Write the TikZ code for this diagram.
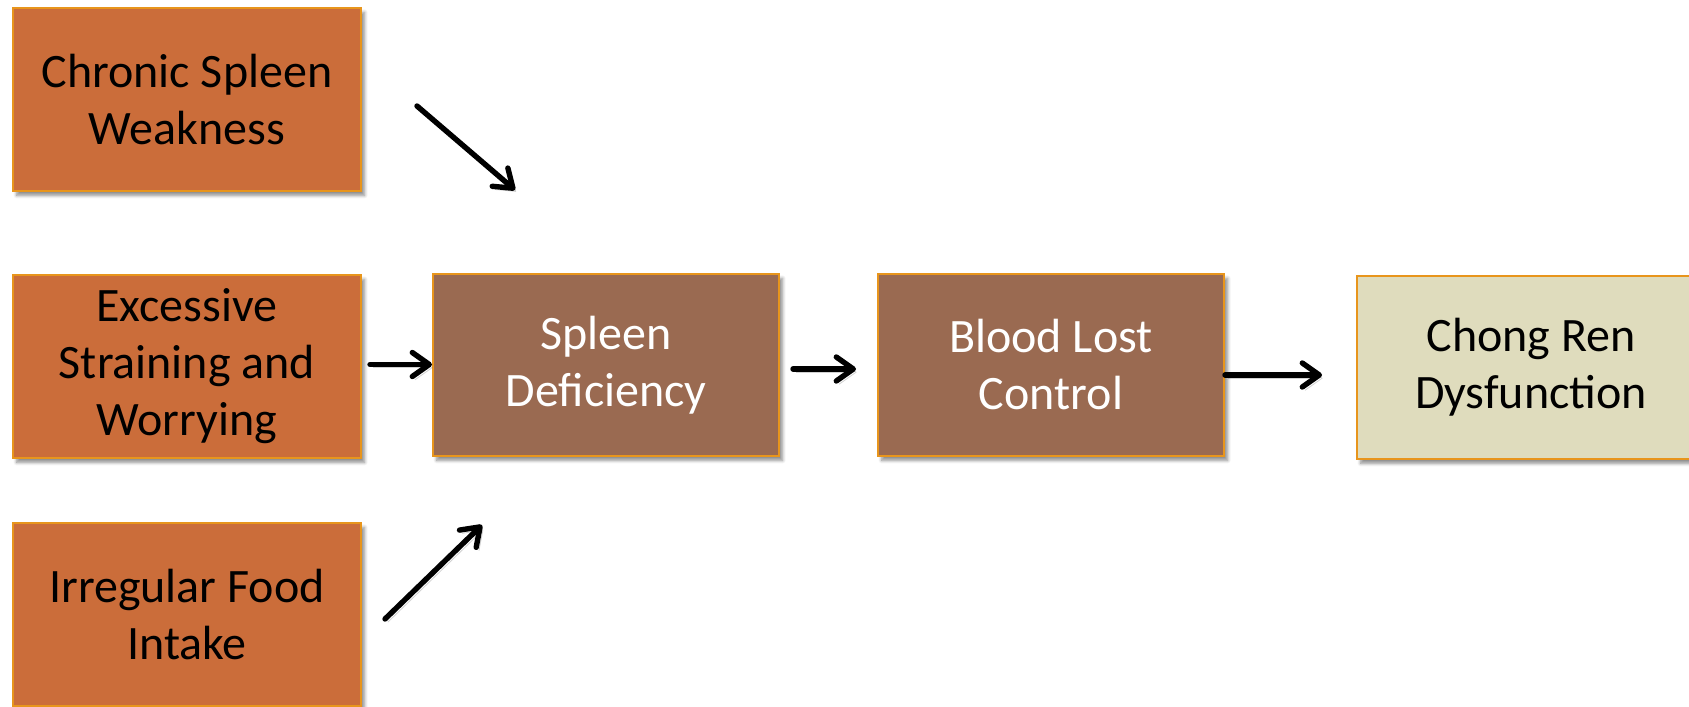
\documentclass[tikz,border=0pt]{standalone}
\usepackage{fontspec}
\setmainfont{Carlito}
\usetikzlibrary{arrows.meta,shadows.blur}
\definecolor{boxorange}{HTML}{CB6D3A}
\definecolor{boxbrown}{HTML}{9A6A51}
\definecolor{boxbeige}{HTML}{DFDCBD}
\definecolor{edgeorange}{HTML}{E8951C}
\tikzset{
  flowbox/.style={rectangle, draw=edgeorange, line width=1pt, inner sep=0pt,
    minimum width=174pt, minimum height=91.5pt, align=center,
    font=\fontsize{24}{28.5}\selectfont,
    execute at begin node={\rule{0pt}{22pt}},
    blur shadow={shadow xshift=1.8pt, shadow yshift=-2.2pt, shadow blur radius=1.6pt, shadow blur steps=6, shadow opacity=45}},
  causebox/.style={flowbox, fill=boxorange, text=black},
  midbox/.style={flowbox, fill=boxbrown, text=white},
  endbox/.style={flowbox, fill=boxbeige, text=black},
  arr/.style={line width=2.7pt, line cap=round, -{Straight Barb[length=8.5pt,width=12pt,round]},
    preaction={draw=black, opacity=0.18, transform canvas={shift={(1.4pt,-1.6pt)}}}}
}
\begin{document}
\begin{tikzpicture}[x=0.5pt,y=-0.5pt]
\useasboundingbox (0,0) rectangle (1689,706);
\clip (0,0) rectangle (1689,706);
\node[causebox] (chr) at (187,99.5) {Chronic Spleen\\Weakness};
\node[causebox] (exc) at (187,366.5) {Excessive\\Straining and\\Worrying};
\node[causebox] (irr) at (187,614.5) {Irregular Food\\Intake};
\node[midbox, minimum height=91pt, minimum width=173pt] (spl) at (606,365) {Spleen\\Deficiency};
\node[midbox, minimum height=91pt, minimum width=173pt] (bld) at (1051,365) {Blood Lost\\Control};
\node[endbox] (chg) at (1531,367.5) {Chong Ren\\Dysfunction};
\coordinate (c1s) at (417,106);
\coordinate (c1e) at (515,190);
\coordinate (c3s) at (385,619);
\coordinate (c3e) at (482,525);
\draw[arr] (c1s) -- (c1e);
\draw[arr] (c3s) -- (c3e);
\coordinate (a1) at ([xshift=4pt,yshift=1pt]exc.east);
\draw[arr] (a1) -- (spl.west |- a1);
\coordinate (a2) at ([xshift=6.5pt,yshift=-2pt]spl.east);
\draw[arr] (a2) -- ([xshift=-10.5pt]bld.west |- a2);
\coordinate (a3) at ([yshift=-5pt]bld.east);
\draw[arr] (a3) -- ([xshift=-17pt]chg.west |- a3);
\end{tikzpicture}
\end{document}
